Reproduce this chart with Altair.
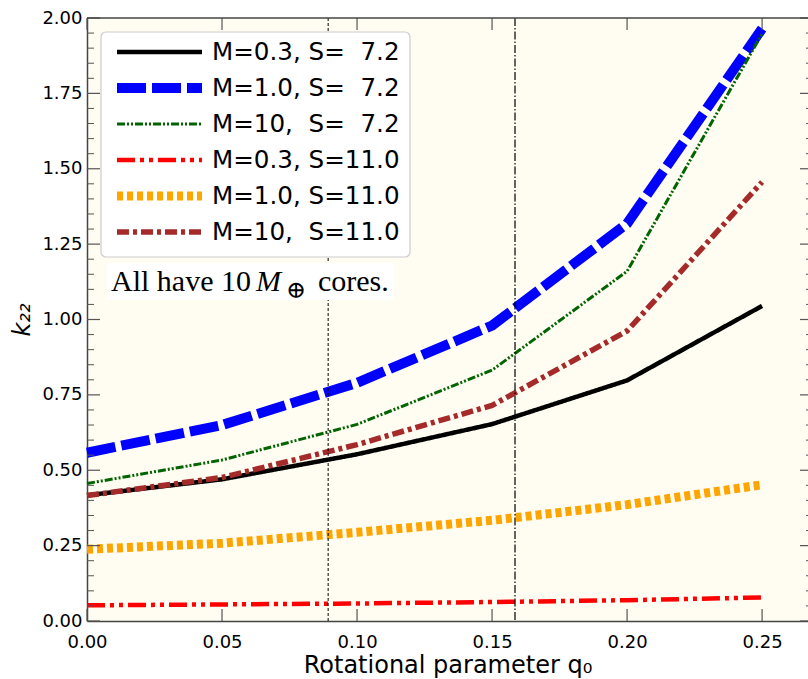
import altair as alt
import pandas as pd

# Rotational parameter q0 sampled for every model
q0 = [0.00, 0.05, 0.10, 0.15, 0.20, 0.25]

# Love number k22 for each envelope mass M and entropy S
k22_m03_s72 = [0.417, 0.470, 0.553, 0.653, 0.798, 1.045]
k22_m10_s72 = [0.558, 0.650, 0.790, 0.980, 1.318, 1.965]
k22_m100_s72 = [0.456, 0.534, 0.652, 0.832, 1.160, 1.948]
k22_m03_s110 = [0.052, 0.055, 0.058, 0.063, 0.069, 0.078]
k22_m10_s110 = [0.238, 0.258, 0.294, 0.334, 0.386, 0.452]
k22_m100_s110 = [0.416, 0.476, 0.585, 0.715, 0.962, 1.456]

NB = "\u00a0"
labels = [
    f"M=0.3, S={NB}{NB}7.2",
    f"M=1.0, S={NB}{NB}7.2",
    f"M=10,{NB} S={NB}{NB}7.2",
    "M=0.3, S=11.0",
    "M=1.0, S=11.0",
    f"M=10,{NB} S=11.0",
]
series = [k22_m03_s72, k22_m10_s72, k22_m100_s72,
          k22_m03_s110, k22_m10_s110, k22_m100_s110]

colors = ["black", "blue", "darkgreen", "red", "orange", "brown"]
dashes = [[1, 0], [29, 6], [8, 2, 2, 2, 2, 2], [18, 5, 4, 5, 4, 5], [6, 4], [12, 4, 4, 4]]
widths = [4.5, 10, 3, 4.5, 9, 5.5]

# reference rotation values marked by vertical lines
q_dotted = [0.0893]
q_dashdot = [0.1585]

x_ticks = [0.00, 0.05, 0.10, 0.15, 0.20, 0.25]
y_ticks = [0.00, 0.25, 0.50, 0.75, 1.00, 1.25, 1.50, 1.75, 2.00]
y_minor = [round(i * 0.05, 2) for i in range(41) if i % 5]

W, H = 721, 603
FONT = "DejaVu Sans"
SERIF = "Liberation Serif"
SPINE = "#444444"
TICK = "#555555"

rows = []
for lab, vals in zip(labels, series):
    for q, k in zip(q0, vals):
        rows.append({"model": lab, "q0": q, "k22": k})
df = pd.DataFrame(rows)
legend_df = pd.DataFrame({"model": labels})

xscale = alt.Scale(domain=[0, 0.267], nice=False, zero=False)
yscale = alt.Scale(domain=[0, 2.0], nice=False, zero=False)
color_scale = alt.Scale(domain=labels, range=colors)
dash_scale = alt.Scale(domain=labels, range=dashes)
width_scale = alt.Scale(type="ordinal", domain=labels, range=widths)
# legend rows are spread over a point scale in pixels
row_scale = alt.Scale(type="point", domain=labels, range=[34, 214], padding=0)

x_axis = alt.Axis(
    values=x_ticks, format=".2f", tickSize=0, labelPadding=12,
    labelFontSize=18, labelFont=FONT, labelColor="black", labelFlush=False,
    labelOverlap=False, domainColor=SPINE, domainWidth=1.5, grid=False,
    title="Rotational parameter q\u2080", titleFont=FONT, titleFontSize=24,
    titleFontWeight="normal", titleColor="black", titlePadding=2,
)
y_axis = alt.Axis(
    values=y_ticks, format=".2f", tickSize=0, labelPadding=5,
    labelFontSize=18, labelFont=FONT, labelColor="black", labelOverlap=False,
    domainColor=SPINE, domainWidth=1.5, grid=False,
    title="k\u2082\u2082", titleFont=FONT, titleFontSize=24, titleFontStyle="italic",
    titleFontWeight="normal", titleColor="black", titlePadding=7,
)

lines = alt.Chart(df).mark_line().encode(
    x=alt.X("q0:Q", scale=xscale, axis=x_axis),
    y=alt.Y("k22:Q", scale=yscale, axis=y_axis),
    color=alt.Color("model:N", scale=color_scale, legend=None),
    strokeDash=alt.StrokeDash("model:N", scale=dash_scale, legend=None),
    strokeWidth=alt.StrokeWidth("model:N", scale=width_scale, legend=None),
    order=alt.Order("q0:Q"),
)

vdot = alt.Chart(pd.DataFrame({"q": q_dotted})).mark_rule(
    color="black", strokeWidth=1, strokeDash=[3, 2]
).encode(x=alt.X("q:Q", scale=xscale))
vdashdot = alt.Chart(pd.DataFrame({"q": q_dashdot})).mark_rule(
    color="black", strokeWidth=1.2, strokeDash=[8, 2, 1.5, 2]
).encode(x=alt.X("q:Q", scale=xscale))

one = pd.DataFrame({"a": [0]})

# legend: frame, sample strokes and labels
legend_box = alt.Chart(one).mark_rect(
    fill="white", stroke="#cccccc", strokeWidth=1.2, cornerRadius=5
).encode(x=alt.value(14), x2=alt.value(323), y=alt.value(14), y2=alt.value(239))
legend_lines = alt.Chart(legend_df).mark_rule().encode(
    y=alt.Y("model:N", scale=row_scale, axis=None),
    x=alt.value(30), x2=alt.value(115),
    color=alt.Color("model:N", scale=color_scale, legend=None),
    strokeDash=alt.StrokeDash("model:N", scale=dash_scale, legend=None),
    strokeWidth=alt.StrokeWidth("model:N", scale=width_scale, legend=None),
)
legend_text = alt.Chart(legend_df).mark_text(
    font=FONT, fontSize=24.6, align="left", baseline="middle", color="black", dy=1
).encode(
    y=alt.Y("model:N", scale=row_scale, axis=None),
    x=alt.value(125),
    text="model:N",
)

# white box with the core-mass note
note_box = alt.Chart(one).mark_rect(color="white").encode(
    x=alt.value(20), x2=alt.value(307), y=alt.value(245), y2=alt.value(282)
)
note1 = alt.Chart(one).mark_text(
    text="All have 10", font=SERIF, fontSize=30, align="left", baseline="alphabetic", color="black"
).encode(x=alt.value(24), y=alt.value(273))
note2 = alt.Chart(one).mark_text(
    text="M", font=SERIF, fontSize=30, fontStyle="italic", align="left",
    baseline="alphabetic", color="black"
).encode(x=alt.value(169), y=alt.value(273))
note3 = alt.Chart(one).mark_text(
    text="\u2295", font="DejaVu Serif", fontSize=24, align="left", baseline="middle", color="black"
).encode(x=alt.value(199), y=alt.value(273))
note4 = alt.Chart(one).mark_text(
    text="cores.", font=SERIF, fontSize=30, align="left", baseline="alphabetic", color="black"
).encode(x=alt.value(231), y=alt.value(273))

# inward ticks on all four sides
ymaj = pd.DataFrame({"v": y_ticks})
ymin = pd.DataFrame({"v": y_minor})
xmaj = pd.DataFrame({"v": x_ticks})
ytick_l = alt.Chart(ymaj).mark_rule(color=TICK, strokeWidth=1.2).encode(
    y=alt.Y("v:Q", scale=yscale, axis=None), x=alt.value(0), x2=alt.value(13))
ytick_r = alt.Chart(ymaj).mark_rule(color=TICK, strokeWidth=1.2).encode(
    y=alt.Y("v:Q", scale=yscale, axis=None), x=alt.value(W - 8), x2=alt.value(W))
ymin_l = alt.Chart(ymin).mark_rule(color=TICK, strokeWidth=1).encode(
    y=alt.Y("v:Q", scale=yscale, axis=None), x=alt.value(0), x2=alt.value(7))
ymin_r = alt.Chart(ymin).mark_rule(color=TICK, strokeWidth=1).encode(
    y=alt.Y("v:Q", scale=yscale, axis=None), x=alt.value(W - 2), x2=alt.value(W))
xtick_b = alt.Chart(xmaj).mark_rule(color=TICK, strokeWidth=1.2).encode(
    x=alt.X("v:Q", scale=xscale), y=alt.value(H - 12), y2=alt.value(H))
xtick_t = alt.Chart(xmaj).mark_rule(color=TICK, strokeWidth=1.2).encode(
    x=alt.X("v:Q", scale=xscale), y=alt.value(0), y2=alt.value(12))
top_spine = alt.Chart(one).mark_rule(color=SPINE, strokeWidth=1.5).encode(
    x=alt.value(0), x2=alt.value(W), y=alt.value(0))

chart = alt.layer(
    lines, vdot, vdashdot,
    ytick_l, ytick_r, ymin_l, ymin_r, xtick_b, xtick_t, top_spine,
    legend_box, legend_lines, legend_text,
    note_box, note1, note2, note3, note4,
).resolve_scale(
    y="independent"
).properties(
    width=W, height=H,
    padding={"left": 87, "top": 18, "right": 0, "bottom": 58},
    autosize=alt.AutoSizeParams(type="none"),
    background="white",
).configure_view(fill="#fffcf2", stroke="transparent")

chart.save("out.html", embed_options={"renderer": "svg", "actions": False})
